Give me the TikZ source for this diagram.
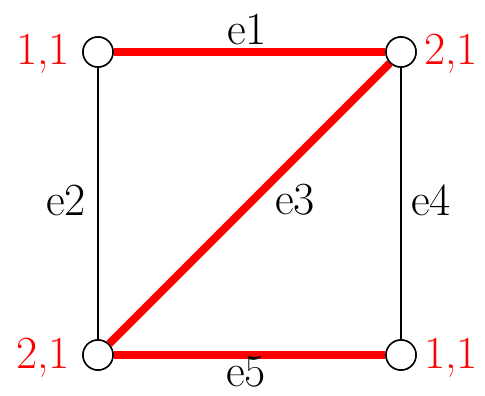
\documentclass[tikz,border=0pt]{standalone}
\usepackage{fontspec}
\usepackage{xcolor}
\usetikzlibrary{positioning}
\definecolor{edgered}{HTML}{FF0000}
\tikzset{
  vertex/.style={draw=black, circle, fill=white, line width=1.5pt, minimum size=30pt, inner sep=0pt},
  plainedge/.style={draw=black, line width=1.5pt},
  redge/.style={draw=edgered, line width=8pt},
  weight/.style={text=edgered, font=\fontsize{46}{50}\selectfont, inner sep=0pt},
  elabel/.style={text=black, font=\fontsize{46}{50}\selectfont, inner sep=0pt}
}

\begin{document}
\begin{tikzpicture}[x=1pt, y=-1pt]
  \useasboundingbox (0,0) rectangle (485,396);
  % vertices
  \node[vertex] (tl) at (98,52) {};
  \node[vertex] (tr) at (401,52) {};
  \node[vertex] (bl) at (98,355) {};
  \node[vertex] (br) at (401,355) {};

  % edges
  \draw[plainedge] (tl) -- (bl);
  \draw[plainedge] (tr) -- (br);
  \draw[redge] (tl) -- (tr);
  \draw[redge] (bl) -- (tr);
  \draw[redge] (bl) -- (br);
  \node[vertex] at (tl) {};
  \node[vertex] at (tr) {};
  \node[vertex] at (bl) {};
  \node[vertex] at (br) {};

  % edge names
  \node[elabel] (e1) at (247,29) {e1};
  \node[elabel] (e2) at (66,200) {e2};
  \node[elabel] (e3) at (295,200) {e3};
  \node[elabel] (e4) at (431,200) {e4};
  \node[elabel] (e5) at (246,372) {e5};

  % vertex weights
  \node[weight] (wtl) at (43,54) {1,1};
  \node[weight] (wtr) at (451,54) {2,1};
  \node[weight] (wbl) at (43,358) {2,1};
  \node[weight] (wbr) at (451,358) {1,1};
\end{tikzpicture}
\end{document}
